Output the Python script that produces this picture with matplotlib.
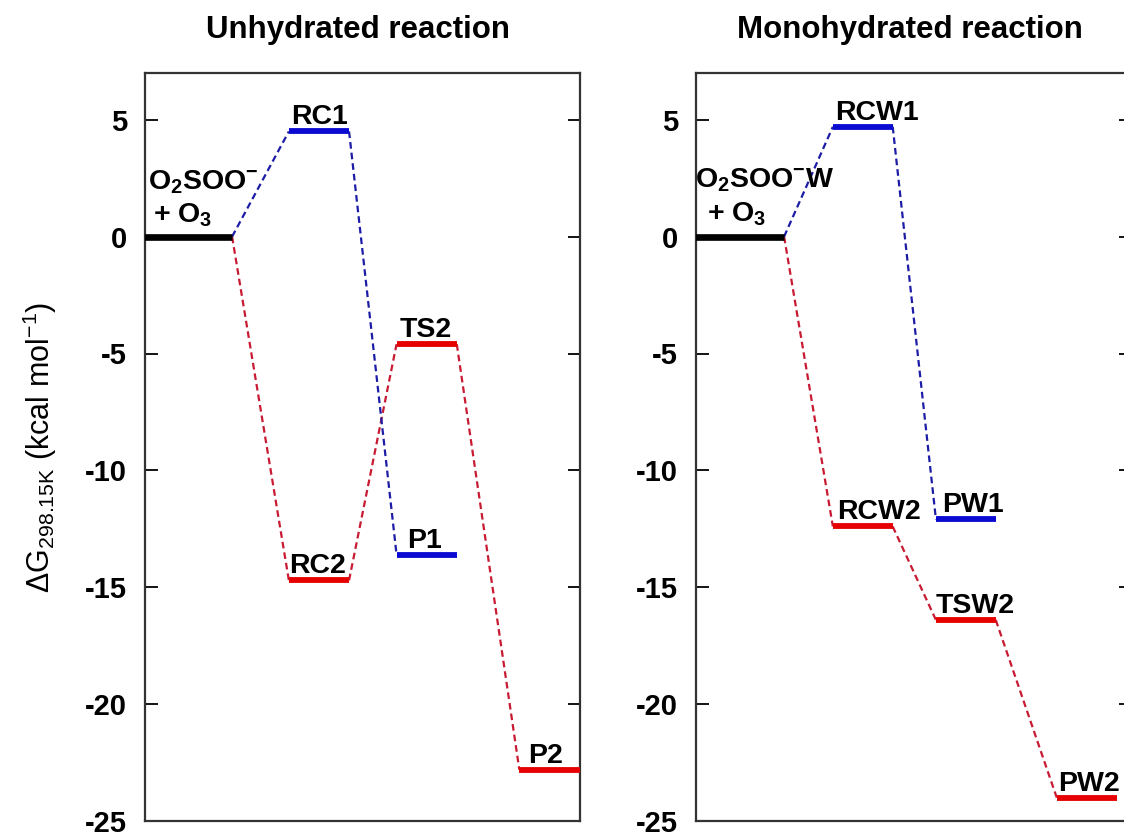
#energy_profile.py

import matplotlib
matplotlib.use("Agg")
import matplotlib.pyplot as plt

plt.rcParams["font.family"] = ["Liberation Sans", "DejaVu Sans"]
plt.rcParams["mathtext.fontset"] = "custom"
plt.rcParams["mathtext.rm"] = "Liberation Sans"
plt.rcParams["mathtext.bf"] = "Liberation Sans:bold"
plt.rcParams["mathtext.it"] = "Liberation Sans:italic"

# ------------------------------------------------------------
# data (kcal/mol), slot = position along reaction coordinate
# ------------------------------------------------------------
unhyd_blue_names = ["", "RC1", "P1"]
unhyd_blue_slot = [0, 1.01, 1.94]
unhyd_blue_g = [0.0, 4.5, -13.6]

unhyd_red_names = ["", "RC2", "TS2", "P2"]
unhyd_red_slot = [0, 1.01, 1.94, 3.0]
unhyd_red_g = [0.0, -14.7, -4.6, -22.8]

mono_blue_names = ["", "RCW1", "PW1"]
mono_blue_slot = [0, 0.98, 1.91]
mono_blue_g = [0.0, 4.7, -12.1]

mono_red_names = ["", "RCW2", "TSW2", "PW2"]
mono_red_slot = [0, 0.98, 1.91, 3.0]
mono_red_g = [0.0, -12.4, -16.4, -24.0]

yticks = [5, 0, -5, -10, -15, -20, -25]

BLUE = "#0a0ad2"
BLUE_D = "#1c1ca6"
RED = "#e60000"
RED_D = "#c81a32"
SPINE = "#333333"

W, H = 1124, 832
fig = plt.figure(figsize=(W / 100, H / 100), dpi=100)

ax1 = fig.add_axes([145 / W, 1 - 821 / H, 435 / W, 748 / H])
ax2 = fig.add_axes([696 / W, 1 - 821 / H, 435 / W, 748 / H])

LAB = 20.5


def draw_path(ax, slots, g, names, hw, col, dcol, lab_dx):
    # levels
    for i, (s, e) in enumerate(zip(slots, g)):
        if i == 0:
            continue
        ax.plot([s - hw, s + hw], [e, e], color=col, lw=4.2,
                solid_capstyle="butt", zorder=3)
        ax.text(s - hw + lab_dx[i], e + 0.3, names[i], ha="left",
                va="baseline", fontsize=LAB, fontweight="bold", zorder=4)
    # dashed connectors
    for i in range(len(slots) - 1):
        ax.plot([slots[i] + hw, slots[i + 1] - hw], [g[i], g[i + 1]],
                color=dcol, lw=1.6, ls=(0, (3, 1.8)), zorder=2)


def style(ax, xlim, hw):
    ax.set_xlim(*xlim)
    ax.set_ylim(-25, 7)
    ax.set_xticks([])
    ax.set_yticks(yticks)
    ax.set_yticklabels([str(t) for t in yticks], fontsize=21, fontweight="bold")
    ax.tick_params(axis="y", direction="in", length=9, width=1.3,
                   right=True, left=True, pad=13, colors="black")
    for sp in ax.spines.values():
        sp.set_color(SPINE)
        sp.set_linewidth(1.6)
    # reactant level (runs in from the left edge)
    ax.plot([xlim[0] - 0.2, hw], [0, 0], color="black", lw=4.8,
            solid_capstyle="butt", zorder=3)


# left panel: unhydrated
hw1 = 0.26
style(ax1, (-0.492, 3.264), hw1)
draw_path(ax1, unhyd_red_slot, unhyd_red_g, unhyd_red_names, hw1, RED, RED_D,
          [0, 0.0, 0.03, 0.08])
draw_path(ax1, unhyd_blue_slot, unhyd_blue_g, unhyd_blue_names, hw1, BLUE, BLUE_D,
          [0, 0.02, 0.09])
ax1.text(-0.47, 2.0, r"O$_\mathbf{2}$SOO$^\mathbf{-}$", ha="left",
         va="baseline", fontsize=LAB, fontweight="bold", zorder=4)
ax1.text(-0.42, 0.6, r"+ O$_\mathbf{3}$", ha="left", va="baseline",
         fontsize=LAB, fontweight="bold", zorder=4)

# right panel: monohydrated
hw2 = 0.27
style(ax2, (-0.525, 3.40), hw2)
draw_path(ax2, mono_red_slot, mono_red_g, mono_red_names, hw2, RED, RED_D,
          [0, 0.04, 0.0, 0.01])
draw_path(ax2, mono_blue_slot, mono_blue_g, mono_blue_names, hw2, BLUE, BLUE_D,
          [0, 0.02, 0.06])
ax2.text(-0.537, 2.1, r"O$_\mathbf{2}$SOO$^\mathbf{-}$W", ha="left",
         va="baseline", fontsize=LAB, fontweight="bold", zorder=4)
ax2.text(-0.425, 0.65, r"+ O$_\mathbf{3}$", ha="left", va="baseline",
         fontsize=LAB, fontweight="bold", zorder=4)

# titles and y label
fig.text(358 / W, 1 - 30 / H, "Unhydrated reaction", ha="center", va="center",
         fontsize=22.5, fontweight="bold")
fig.text(910 / W, 1 - 30 / H, "Monohydrated reaction", ha="center", va="center",
         fontsize=22.5, fontweight="bold")
fig.text(40 / W, 1 - 447 / H, r"$\Delta$G$_{\mathrm{298.15K}}$ (kcal mol$^{-1}$)",
         rotation=90, ha="center", va="center", fontsize=22)

fig.savefig("out.png", dpi=100)
